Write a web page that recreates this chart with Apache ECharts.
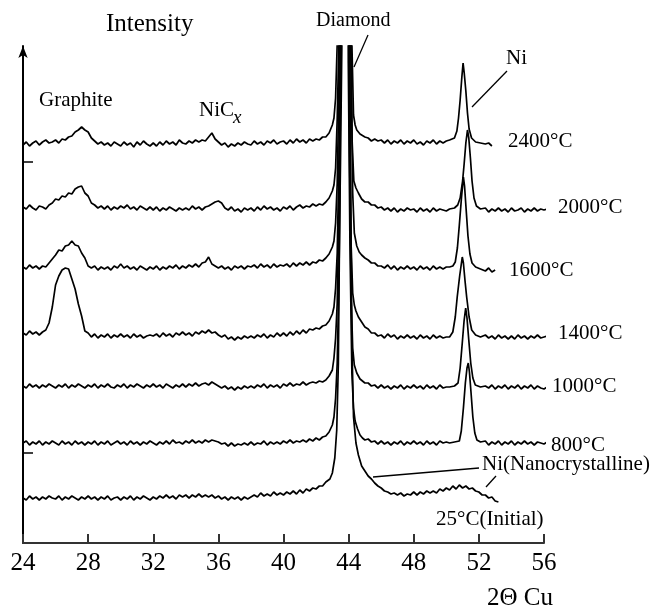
<!DOCTYPE html>
<html>
<head>
<meta charset="utf-8">
<title>XRD patterns</title>
<script src="https://cdn.jsdelivr.net/npm/echarts@6/dist/echarts.min.js"></script>
<style>
  html, body { margin: 0; padding: 0; background: #fff; }
  #main { width: 652px; height: 609px; }
</style>
</head>
<body>
<div id="main"></div>
<script>
// 2Θ grid (deg) for the baseline readings
var twoTheta = [
  24.0,24.2,24.4,24.6,24.8,25.0,25.2,25.4,25.6,25.8,
  26.0,26.2,26.4,26.6,26.8,27.0,27.2,27.4,27.6,27.8,
  28.0,28.2,28.4,28.6,28.8,29.0,29.2,29.4,29.6,29.8,
  30.0,30.2,30.4,30.6,30.8,31.0,31.2,31.4,31.6,31.8,
  32.0,32.2,32.4,32.6,32.8,33.0,33.2,33.4,33.6,33.8,
  34.0,34.2,34.4,34.6,34.8,35.0,35.2,35.4,35.6,35.8,
  36.0,36.2,36.4,36.6,36.8,37.0,37.2,37.4,37.6,37.8,
  38.0,38.2,38.4,38.6,38.8,39.0,39.2,39.4,39.6,39.8,
  40.0,40.2,40.4,40.6,40.8,41.0,41.2,41.4,41.6,41.8,
  42.0,42.2,42.4,42.6,42.8,43.0,43.2,43.4,43.6,43.8,
  44.0,44.2,44.4,44.6,44.8,45.0,45.2,45.4,45.6,45.8,
  46.0,46.2,46.4,46.6,46.8,47.0,47.2,47.4,47.6,47.8,
  48.0,48.2,48.4,48.6,48.8,49.0,49.2,49.4,49.6,49.8,
  50.0,50.2,50.4,50.6,50.8,51.0,51.2,51.4,51.6,51.8,
  52.0,52.2,52.4,52.6,52.8,53.0,53.2,53.4,53.6,53.8,
  54.0,54.2,54.4,54.6,54.8,55.0,55.2,55.4,55.6,55.8,
  56.0,56.2
];

// intensity (offset, arb. units) on the grid, one array per anneal temperature
var base2400 = [
  398,401,397,400,402,398,401,403,400,401,
  403,400,404,403,406,407,411,413,416,413,
  411,405,402,399,401,398,400,397,401,399,
  397,401,398,400,396,401,398,402,399,397,
  400,397,401,398,402,399,401,398,403,400,
  399,402,400,403,401,403,402,406,410,404,
  401,398,400,396,399,397,400,398,401,399,
  398,402,399,401,398,402,400,403,399,401,
  402,399,403,400,404,401,403,400,404,402,
  404,403,406,406,408,410,415,425,470,600,
  600,470,425,415,410,406,405,402,404,402,
  403,400,403,399,402,400,403,399,402,400,
  403,399,401,398,402,400,403,399,402,400,
  402,403,404,410,440,470,440,410,403,401,
  400,402,399,400,397
];
var base2000 = [
  336,334,338,335,333,337,336,334,338,340,
  344,343,347,346,350,349,354,356,357,350,
  347,340,338,335,337,334,337,333,336,334,
  337,335,338,334,336,333,337,335,333,336,
  333,336,332,335,333,336,334,332,335,333,
  335,333,337,334,336,333,336,337,339,341,
  342,340,335,333,336,332,334,331,335,333,
  335,332,336,333,337,334,336,333,335,332,
  336,334,337,333,336,338,335,337,336,339,
  337,339,338,341,345,352,375,580,900,900,
  900,580,400,362,355,341,341,338,338,335,
  336,333,335,332,335,331,334,332,335,333,
  334,331,335,332,334,331,335,332,334,333,
  332,334,335,338,362,400,405,362,337,334,
  334,332,335,331,334,332,335,332,334,331,
  335,332,333,335,331,334,332,335,332,334,
  333,334
];
var base1600 = [
  276,274,278,275,277,274,277,276,280,284,
  288,293,292,297,298,302,298,297,290,285,
  277,275,277,273,276,274,276,273,277,275,
  279,275,277,274,276,273,277,275,273,276,
  274,277,273,276,274,277,275,278,274,277,
  275,278,276,279,276,280,281,286,279,277,
  275,277,274,276,273,277,275,277,274,277,
  276,278,275,279,276,278,275,279,276,278,
  277,279,276,280,277,280,278,281,278,281,
  280,283,282,285,289,296,320,520,900,900,
  900,480,350,310,297,285,283,280,280,277,
  277,275,278,274,277,273,276,274,277,274,
  276,273,277,274,276,273,277,274,276,274,
  276,276,277,280,318,366,333,289,276,275,
  274,276,272,275,271,273
];
var base1400 = [
  210,208,212,209,211,208,211,213,220,236,
  258,267,273,275,274,264,254,239,227,212,
  210,206,209,205,208,206,209,205,208,206,
  209,206,208,205,209,206,208,205,207,208,
  207,209,206,210,207,209,206,210,208,211,
  208,210,207,211,209,212,210,213,210,211,
  208,206,208,204,206,203,206,204,207,205,
  207,205,208,206,209,205,208,206,210,207,
  210,207,211,208,212,209,213,210,214,213,
  215,214,217,218,222,229,255,460,900,900,
  900,420,290,245,232,216,214,210,210,207,
  208,205,209,206,208,204,207,205,208,205,
  207,204,208,205,207,204,208,205,207,205,
  206,213,246,280,262,225,208,206,205,207,
  206,204,208,205,207,204,208,205,207,204,
  207,204,208,205,207,204,207,205,208,205,
  206,207
];
var base1000 = [
  157,155,159,156,158,155,158,156,159,157,
  155,158,156,159,155,158,156,159,157,155,
  158,156,159,155,158,156,159,156,155,158,
  156,159,155,158,156,159,157,155,158,156,
  159,156,158,155,159,157,155,158,156,159,
  156,159,157,160,157,159,160,158,161,159,
  157,155,157,154,156,153,156,154,157,155,
  157,155,158,156,159,155,158,156,158,155,
  159,157,160,157,159,158,161,158,160,161,
  160,162,161,163,167,173,205,410,900,900,
  900,350,200,178,170,160,160,157,158,155,
  158,155,157,154,157,155,158,154,157,155,
  158,155,157,154,158,155,157,154,158,155,
  156,156,157,160,200,235,203,165,158,156,
  156,154,157,155,158,154,157,155,158,154,
  157,155,158,154,157,155,158,154,157,155,
  154,156
];
var base800 = [
  100,102,98,101,99,102,98,101,99,102,
  100,98,102,99,101,98,102,99,101,98,
  101,99,102,98,101,99,102,98,100,102,
  99,101,98,102,99,101,98,101,99,102,
  100,98,101,99,102,99,103,100,101,99,
  102,100,103,100,102,100,103,101,103,102,
  101,99,100,97,100,97,99,98,100,98,
  101,98,100,99,102,98,101,99,101,99,
  102,100,103,100,102,101,103,101,104,102,
  105,103,106,107,111,118,145,350,900,900,
  900,740,170,130,117,104,104,101,102,99,
  102,99,101,98,101,99,102,98,101,99,
  102,99,101,98,102,99,101,98,102,100,
  101,100,101,102,112,135,175,150,110,103,
  101,99,102,98,101,99,102,98,101,99,
  102,98,101,99,102,99,101,98,101,100,
  99,101
];
var base25 = [
  45,43,47,44,46,43,46,44,47,45,
  44,47,43,46,44,47,45,43,46,44,
  47,44,46,43,46,44,47,43,45,46,
  43,46,44,47,43,46,44,47,45,43,
  46,44,47,45,48,45,47,44,48,46,
  48,45,48,46,49,46,48,46,48,45,
  47,44,46,43,46,44,46,43,46,44,
  46,48,46,50,47,49,47,51,48,50,
  48,51,49,52,49,53,50,54,52,55,
  54,57,57,61,64,70,113,800,900,900,
  900,400,126,88,77,72,67,64,60,57,
  55,52,51,49,50,48,50,47,49,48,
  51,48,51,49,52,50,52,50,54,52,
  55,53,57,54,58,55,57,54,55,52,
  51,48,48,45,46,42,41
];

// finer readings across the diamond (111) and Ni (111) peaks: [2Θ, intensity]
var peak2400D = [[42.6,406],[42.8,410],[43.0,418],[43.1,425],[43.2,445],[43.3,500],[43.4,650],[43.5,1000],[43.75,3400],[44.0,1000],[44.1,620],[44.2,500],[44.3,428],[44.4,418],[44.5,413],[44.7,409],[45.0,406]];
var peak2400N = [[50.3,402],[50.5,405],[50.65,412],[50.75,425],[50.85,443],[50.95,465],[51.03,480],[51.1,470],[51.2,452],[51.3,430],[51.4,414],[51.55,405],[51.8,401],[52.1,400]];
var peak2000D = [[42.6,341],[42.8,345],[43.0,352],[43.1,358],[43.2,375],[43.3,425],[43.4,500],[43.5,800],[43.78,3300],[44.02,930],[44.12,520],[44.22,400],[44.32,362],[44.45,355],[44.6,350],[44.8,344],[45.0,341]];
var peak2000N = [[50.2,334],[50.5,335],[50.7,338],[50.85,345],[51.0,362],[51.1,380],[51.2,400],[51.3,413],[51.38,405],[51.48,385],[51.58,362],[51.7,345],[51.85,337],[52.1,334]];
var peak1600D = [[42.6,285],[42.8,289],[43.0,296],[43.1,302],[43.2,320],[43.3,360],[43.4,450],[43.5,700],[43.8,3300],[44.05,880],[44.15,480],[44.25,350],[44.35,310],[44.5,297],[44.65,291],[44.8,288],[45.0,285]];
var peak1600N = [[50.2,276],[50.4,277],[50.55,281],[50.68,295],[50.8,318],[50.93,345],[51.05,366],[51.12,357],[51.22,333],[51.33,307],[51.45,289],[51.58,280],[51.8,276],[52.1,274]];
var peak1400D = [[42.6,218],[42.8,222],[43.0,229],[43.1,236],[43.2,255],[43.3,290],[43.4,380],[43.5,500],[43.6,900],[43.77,3200],[43.95,900],[44.05,480],[44.15,300],[44.25,250],[44.35,238],[44.45,232],[44.6,226],[44.8,221],[45.0,216]];
var peak1400N = [[50.2,206],[50.4,211],[50.55,226],[50.67,246],[50.82,267],[50.98,286],[51.05,280],[51.15,262],[51.25,246],[51.4,226],[51.56,213],[51.8,208],[52.1,206]];
var peak1000D = [[42.6,163],[42.8,167],[43.0,173],[43.1,185],[43.2,205],[43.3,240],[43.4,330],[43.5,450],[43.6,700],[43.8,3200],[43.95,800],[44.05,400],[44.15,250],[44.25,195],[44.35,178],[44.5,170],[44.7,164],[45.0,160]];
var peak1000N = [[50.2,156],[50.5,157],[50.72,160],[50.85,175],[50.98,200],[51.09,222],[51.19,235],[51.27,225],[51.38,203],[51.5,180],[51.63,165],[51.78,158],[52.1,156]];
var peak800D = [[42.6,107],[42.8,111],[43.0,118],[43.1,126],[43.2,145],[43.3,180],[43.4,260],[43.5,380],[43.6,520],[43.75,3200],[43.92,800],[43.98,480],[44.08,300],[44.2,170],[44.3,135],[44.4,122],[44.55,114],[44.7,108],[44.85,105],[45.0,103]];
var peak800N = [[50.2,100],[50.5,101],[50.8,102],[50.92,112],[51.05,135],[51.17,160],[51.27,175],[51.35,180],[51.42,171],[51.52,150],[51.63,126],[51.75,110],[51.88,103],[52.1,101]];
var peak25D = [[42.6,61],[42.85,64],[43.0,70],[43.15,85],[43.27,113],[43.37,180],[43.47,360],[43.57,800],[43.8,3000],[44.0,800],[44.1,400],[44.2,200],[44.3,126],[44.45,100],[44.6,88],[44.8,77],[45.0,72]];

var xTicks = [24, 28, 32, 36, 40, 44, 48, 52, 56];
var yTicks = [90, 381];

// grid points that fall inside a detailed segment are replaced by it
function buildCurve(base, peaks) {
  var pts = [];
  base.forEach(function (v, i) {
    var x = twoTheta[i];
    var inside = peaks.some(function (seg) {
      return x >= seg[0][0] - 1e-6 && x <= seg[seg.length - 1][0] + 1e-6;
    });
    if (!inside) pts.push([x, v]);
  });
  peaks.forEach(function (seg) { pts = pts.concat(seg); });
  pts.sort(function (a, b) { return a[0] - b[0]; });
  return pts;
}

var curves = [
  { name: '2400°C', base: base2400, peaks: [peak2400D, peak2400N] },
  { name: '2000°C', base: base2000, peaks: [peak2000D, peak2000N] },
  { name: '1600°C', base: base1600, peaks: [peak1600D, peak1600N] },
  { name: '1400°C', base: base1400, peaks: [peak1400D, peak1400N] },
  { name: '1000°C', base: base1000, peaks: [peak1000D, peak1000N] },
  { name: '800°C', base: base800, peaks: [peak800D, peak800N] },
  { name: '25°C(Initial)', base: base25, peaks: [peak25D] }
];

var serif = '"Liberation Serif", "Times New Roman", serif';

function txt(text, x, y, size, style) {
  return {
    type: 'text', x: x, y: y, silent: true,
    style: {
      text: text, fill: '#000', align: 'left', verticalAlign: 'middle',
      font: (style || '') + ' ' + size + 'px ' + serif
    }
  };
}
function seg(x1, y1, x2, y2) {
  return {
    type: 'line', silent: true,
    shape: { x1: x1, y1: y1, x2: x2, y2: y2 },
    style: { stroke: '#000', lineWidth: 1.3 }
  };
}

var chart = echarts.init(document.getElementById('main'), null, { renderer: 'canvas' });

var option = {
  backgroundColor: '#fff',
  animation: false,
  grid: { left: 23, right: 108, top: 46, bottom: 66, containLabel: false, outerBoundsMode: 'none' },
  xAxis: {
    type: 'value', min: 24, max: 56, interval: 4,
    axisLine: { show: true, lineStyle: { color: '#333', width: 2 } },
    axisTick: { show: true, inside: true, length: 9, customValues: xTicks, lineStyle: { color: '#333', width: 2 } },
    axisLabel: { show: true, customValues: xTicks, color: '#000', fontSize: 25, fontFamily: serif, margin: 8 },
    splitLine: { show: false }
  },
  yAxis: {
    type: 'value', min: 0, max: 497,
    axisLine: {
      show: true, onZero: false,
      symbol: ['none', 'arrow'], symbolSize: [7, 12],
      lineStyle: { color: '#000', width: 2 }
    },
    axisTick: { show: true, inside: true, length: 10, customValues: yTicks, lineStyle: { color: '#000', width: 1.5 } },
    axisLabel: { show: false },
    splitLine: { show: false }
  },
  series: curves.map(function (c) {
    return {
      type: 'line', name: c.name,
      data: buildCurve(c.base, c.peaks),
      showSymbol: false, symbol: 'none', clip: true, silent: true,
      lineStyle: { color: '#000', width: 1.7 }
    };
  }),
  graphic: [
    txt('Intensity', 106, 24, 25),
    txt('Diamond', 316, 21, 20),
    seg(368, 35, 354, 67),
    txt('Graphite', 39, 100, 21),
    txt('NiC', 199, 110, 21),
    txt('x', 233, 118, 19, 'italic'),
    txt('Ni', 506, 58, 21),
    seg(507, 71, 472, 107),
    txt('2400°C', 508, 141, 21),
    txt('2000°C', 558, 207, 21),
    txt('1600°C', 509, 270, 21),
    txt('1400°C', 558, 333, 21),
    txt('1000°C', 552, 386, 21),
    txt('800°C', 551, 445, 21),
    txt('Ni(Nanocrystalline)', 482, 464, 21),
    seg(479, 468, 373, 477),
    seg(496, 476, 486, 487),
    txt('25°C(Initial)', 436, 519, 21),
    txt('2Θ Cu', 487, 598, 25)
  ]
};

chart.setOption(option);
</script>
</body>
</html>
